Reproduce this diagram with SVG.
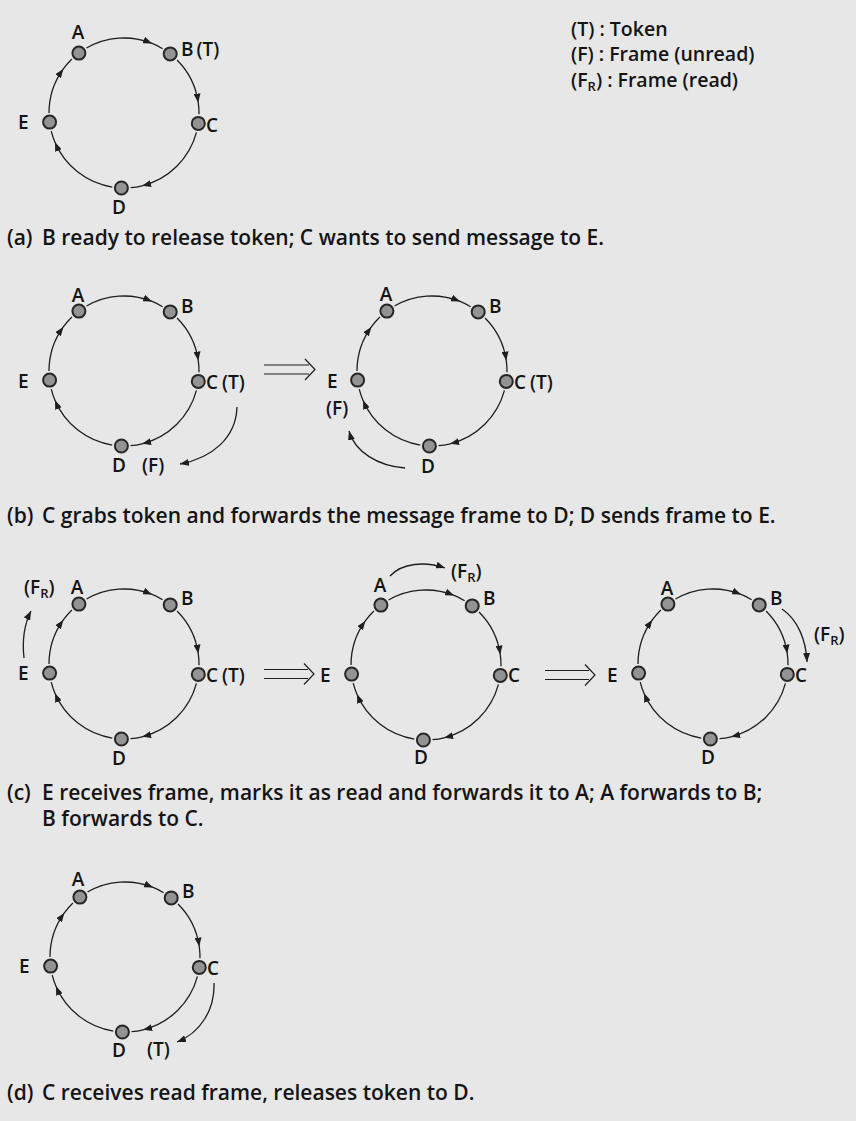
<svg xmlns="http://www.w3.org/2000/svg" xmlns:xlink="http://www.w3.org/1999/xlink" width="856" height="1121" viewBox="0 0 856 1121">
<style>
text{font-family:"Open Sans","Noto Sans","Liberation Sans",sans-serif;fill:#141414;font-weight:600}
.lbl{font-size:19px}
.cap{font-size:21px}
.leg{font-size:19.5px}
.sub{font-size:13px}
.nd{fill:#939393;stroke:#262626;stroke-width:2}
.arc{fill:none;stroke:#1e1e1e;stroke-width:1.3;marker-mid:url(#ah)}
.ex{fill:none;stroke:#1e1e1e;stroke-width:1.3;marker-end:url(#ah)}
.dbl{fill:none;stroke:#1e1e1e;stroke-width:1.2}
</style>
<defs>
<marker id="ah" viewBox="0 0 10 10" refX="10" refY="5" markerWidth="9" markerHeight="7" markerUnits="userSpaceOnUse" orient="auto" preserveAspectRatio="none"><path d="M0,0 L10,5 L0,10 z" fill="#1e1e1e"/></marker>
<g id="ring">
<path class="arc" d="M86.5 48.05 A75 75 0 0 1 152.1 43.46 A75 75 0 0 1 162.63 48.71"/>
<path class="arc" d="M177.03 59.97 A75 75 0 0 1 198.27 102.56 A75 75 0 0 1 198.99 114.31"/>
<path class="arc" d="M196.44 132.41 A75 75 0 0 1 142.14 185.77 A75 75 0 0 1 130.54 187.71"/>
<path class="arc" d="M112.27 187.08 A75 75 0 0 1 54.96 142.3 A75 75 0 0 1 51.23 131.14"/>
<path class="arc" d="M49 113 A75 75 0 0 1 63.32 68.92 A75 75 0 0 1 71.9 59.05"/>
</g>
</defs>
<rect width="856" height="1121" fill="#e7e7e7"/>

<g id="connectors">
<use xlink:href="#ring"/>
<use xlink:href="#ring" transform="translate(0,258)"/>
<use xlink:href="#ring" transform="translate(308,258)"/>
<use xlink:href="#ring" transform="translate(0,551)"/>
<use xlink:href="#ring" transform="translate(302,552)"/>
<use xlink:href="#ring" transform="translate(589,551)"/>
<use xlink:href="#ring" transform="translate(1,844)"/>
<path class="ex" d="M237 407 C236 438 212 458 180 464"/>
<path class="ex" d="M405 468 C378 466 355 452 349 431"/>
<path class="ex" d="M24 658 C22 640 24 625 31 611"/>
<path class="ex" d="M390 576 C402 563 425 561 445 568"/>
<path class="ex" d="M782 609 C798 620 806 640 807 662"/>
<path class="ex" d="M214 983 C215 1010 200 1033 177 1042"/>
<g id="transition-b">
<path class="dbl" d="M264 365 H309 M264 374 H309 M305 359 L315 369.5 L305 380"/>
</g>
<g id="transition-c1">
<path class="dbl" d="M264 669.5 H308 M264 678.5 H308 M304 663.5 L314 674 L304 684.5"/>
</g>
<g id="transition-c2">
<path class="dbl" d="M545 670.5 H589 M545 679.5 H589 M585 664.5 L595 675 L585 685.5"/>
</g>
</g>

<g id="legend">
<text class="leg" x="571" y="36">(T) : Token</text>
<text class="leg" x="571" y="61">(F) : Frame (unread)</text>
<text class="leg" x="571" y="87">(F<tspan class="sub" dy="4">R</tspan><tspan dy="-4">) : Frame (read)</tspan></text>
</g>

<!-- panel a -->
<g id="a-A"><circle class="nd" cx="78.9" cy="53.1" r="6.5"/><text class="lbl" x="78" y="39" text-anchor="middle">A</text></g>
<g id="a-B"><circle class="nd" cx="170.2" cy="53.9" r="6.5"/><text class="lbl" x="181" y="56">B<tspan dx="3">(T)</tspan></text></g>
<g id="a-C"><circle class="nd" cx="198.3" cy="123.4" r="6.5"/><text class="lbl" x="206" y="132">C</text></g>
<g id="a-D"><circle class="nd" cx="121.4" cy="188" r="6.5"/><text class="lbl" x="119" y="214" text-anchor="middle">D</text></g>
<g id="a-E"><circle class="nd" cx="49.6" cy="122.1" r="6.5"/><text class="lbl" x="18" y="129">E</text></g>
<text class="cap" x="7" y="245">(a)<tspan x="42">B ready to release token; C wants to send message to E.</tspan></text>

<!-- panel b left -->
<g id="b1-A"><circle class="nd" cx="78.9" cy="311.1" r="6.5"/><text class="lbl" x="78" y="302" text-anchor="middle">A</text></g>
<g id="b1-B"><circle class="nd" cx="170.2" cy="311.9" r="6.5"/><text class="lbl" x="181" y="313">B</text></g>
<g id="b1-C"><circle class="nd" cx="198.3" cy="381.4" r="6.5"/><text class="lbl" x="206" y="389">C<tspan dx="4">(T)</tspan></text></g>
<g id="b1-D"><circle class="nd" cx="121.4" cy="446" r="6.5"/><text class="lbl" x="119" y="472" text-anchor="middle">D</text></g>
<g id="b1-E"><circle class="nd" cx="49.6" cy="380.1" r="6.5"/><text class="lbl" x="18" y="388">E</text></g>
<text class="lbl" x="142" y="472">(F)</text>

<!-- panel b right -->
<g id="b2-A"><circle class="nd" cx="386.9" cy="311.1" r="6.5"/><text class="lbl" x="386" y="301" text-anchor="middle">A</text></g>
<g id="b2-B"><circle class="nd" cx="478.2" cy="311.9" r="6.5"/><text class="lbl" x="489" y="313">B</text></g>
<g id="b2-C"><circle class="nd" cx="506.3" cy="381.4" r="6.5"/><text class="lbl" x="514" y="389">C<tspan dx="4">(T)</tspan></text></g>
<g id="b2-D"><circle class="nd" cx="429.4" cy="446" r="6.5"/><text class="lbl" x="428" y="473" text-anchor="middle">D</text></g>
<g id="b2-E"><circle class="nd" cx="357.6" cy="380.1" r="6.5"/><text class="lbl" x="327" y="388">E</text></g>
<text class="lbl" x="326" y="415">(F)</text>
<text class="cap" x="7" y="523">(b)<tspan x="42">C grabs token and forwards the message frame to D; D sends frame to E.</tspan></text>

<!-- panel c left -->
<g id="c1-A"><circle class="nd" cx="78.9" cy="604.1" r="6.5"/><text class="lbl" x="77" y="594" text-anchor="middle">A</text></g>
<g id="c1-B"><circle class="nd" cx="170.2" cy="604.9" r="6.5"/><text class="lbl" x="181" y="605">B</text></g>
<g id="c1-C"><circle class="nd" cx="198.3" cy="674.4" r="6.5"/><text class="lbl" x="206" y="682">C<tspan dx="4">(T)</tspan></text></g>
<g id="c1-D"><circle class="nd" cx="121.4" cy="739" r="6.5"/><text class="lbl" x="119" y="765" text-anchor="middle">D</text></g>
<g id="c1-E"><circle class="nd" cx="49.6" cy="673.1" r="6.5"/><text class="lbl" x="18" y="680">E</text></g>
<text class="lbl" x="24" y="594">(F<tspan class="sub" dy="4">R</tspan><tspan dy="-4">)</tspan></text>

<!-- panel c middle -->
<g id="c2-A"><circle class="nd" cx="380.9" cy="605.1" r="6.5"/><text class="lbl" x="380" y="592" text-anchor="middle">A</text></g>
<g id="c2-B"><circle class="nd" cx="472.2" cy="605.9" r="6.5"/><text class="lbl" x="483" y="605">B</text></g>
<g id="c2-C"><circle class="nd" cx="500.3" cy="675.4" r="6.5"/><text class="lbl" x="508" y="682">C</text></g>
<g id="c2-D"><circle class="nd" cx="423.4" cy="740" r="6.5"/><text class="lbl" x="421" y="764" text-anchor="middle">D</text></g>
<g id="c2-E"><circle class="nd" cx="351.6" cy="674.1" r="6.5"/><text class="lbl" x="320" y="682">E</text></g>
<text class="lbl" x="451" y="578">(F<tspan class="sub" dy="4">R</tspan><tspan dy="-4">)</tspan></text>

<!-- panel c right -->
<g id="c3-A"><circle class="nd" cx="667.9" cy="604.1" r="6.5"/><text class="lbl" x="667" y="595" text-anchor="middle">A</text></g>
<g id="c3-B"><circle class="nd" cx="759.2" cy="604.9" r="6.5"/><text class="lbl" x="770" y="605">B</text></g>
<g id="c3-C"><circle class="nd" cx="787.3" cy="674.4" r="6.5"/><text class="lbl" x="795" y="682">C</text></g>
<g id="c3-D"><circle class="nd" cx="710.4" cy="739" r="6.5"/><text class="lbl" x="708" y="764" text-anchor="middle">D</text></g>
<g id="c3-E"><circle class="nd" cx="638.6" cy="673.1" r="6.5"/><text class="lbl" x="607" y="682">E</text></g>
<text class="lbl" x="814" y="641">(F<tspan class="sub" dy="4">R</tspan><tspan dy="-4">)</tspan></text>
<text class="cap" x="7" y="800">(c)<tspan x="42">E receives frame, marks it as read and forwards it to A; A forwards to B;</tspan><tspan x="42" y="826">B forwards to C.</tspan></text>

<!-- panel d -->
<g id="d-A"><circle class="nd" cx="79.9" cy="897.1" r="6.5"/><text class="lbl" x="78" y="886" text-anchor="middle">A</text></g>
<g id="d-B"><circle class="nd" cx="171.2" cy="897.9" r="6.5"/><text class="lbl" x="182" y="898">B</text></g>
<g id="d-C"><circle class="nd" cx="199.3" cy="967.4" r="6.5"/><text class="lbl" x="207" y="975">C</text></g>
<g id="d-D"><circle class="nd" cx="122.4" cy="1032" r="6.5"/><text class="lbl" x="119" y="1057" text-anchor="middle">D</text></g>
<g id="d-E"><circle class="nd" cx="50.6" cy="966.1" r="6.5"/><text class="lbl" x="19" y="973">E</text></g>
<text class="lbl" x="147" y="1056">(T)</text>
<text class="cap" x="7" y="1100">(d)<tspan x="42">C receives read frame, releases token to D.</tspan></text>
</svg>
